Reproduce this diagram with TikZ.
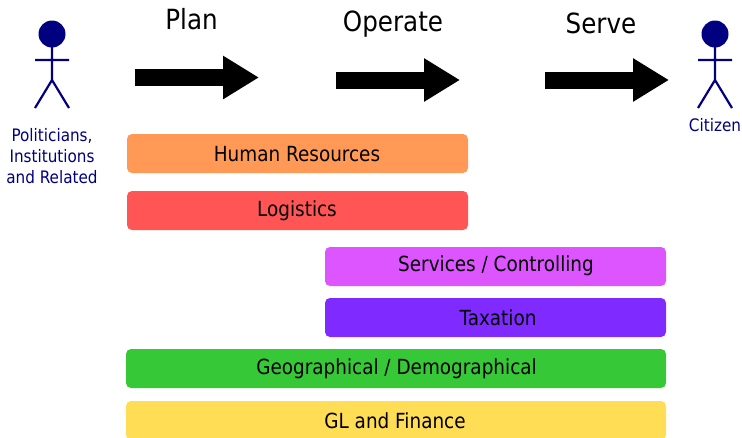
\documentclass[tikz,border=0pt]{standalone}
\usepackage{fontspec}
\setmainfont[FakeStretch=0.885]{DejaVu Sans}
\usepackage{tikz}
\usetikzlibrary{arrows.meta,positioning}
\definecolor{actorblue}{HTML}{000080}
\definecolor{hrcol}{HTML}{FF9955}
\definecolor{logcol}{HTML}{FF5555}
\definecolor{svccol}{HTML}{DD55FF}
\definecolor{taxcol}{HTML}{7F2AFF}
\definecolor{geocol}{HTML}{37C837}
\definecolor{glcol}{HTML}{FFDD55}
\begin{document}
\begin{tikzpicture}[
  x=1pt,y=-1pt,
  every node/.style={font=\fontsize{20.8}{25}\selectfont,anchor=base},
  flow/.style={line width=17pt,-{Triangle[length=36pt,width=41pt]}},
  phase/.style={font=\fontsize{27.8}{33}\selectfont},
  actor/.style={draw=actorblue,line width=2.2pt},
  who/.style={text=actorblue,align=center,font=\fontsize{17.2}{21.3}\selectfont},
  bar/.style={anchor=center,rounded corners=5pt,inner sep=0pt,minimum height=39pt,text=black}
]
  \useasboundingbox (0,0) rectangle (742,437);
  \clip (0,0) rectangle (742,437);

  % Phase labels
  \node[phase] (plan_lbl) at (191.5,29) {Plan};
  \node[phase] (operate_lbl) at (393,31) {Operate};
  \node[phase] (serve_lbl) at (601,33.5) {Serve};

  % Flow arrows
  \coordinate (plan_a) at (135,77.5);
  \coordinate (plan_b) at (259,77.5);
  \coordinate (operate_a) at (336,80);
  \coordinate (operate_b) at (460,80);
  \coordinate (serve_a) at (545,80);
  \coordinate (serve_b) at (669,80);
  \draw[flow] (plan_a) -- (plan_b);
  \draw[flow] (operate_a) -- (operate_b);
  \draw[flow] (serve_a) -- (serve_b);

  % Left actor
  \fill[actorblue] (52,34) circle (13.5);
  \draw[actor] (52,45) -- (52,80) (35,60) -- (69,60) (35,108) -- (52,80) -- (69,108);
  \node[who,anchor=center] (pol_lbl) at (52,156.2) {Politicians,\\Institutions\\and Related};

  % Right actor
  \fill[actorblue] (715,34) circle (13.5);
  \draw[actor] (715,45) -- (715,80) (698,60) -- (732,60) (698,108) -- (715,80) -- (732,108);
  \node[who] (cit_lbl) at (715,131) {Citizen};

  % Bars
  \node[bar,fill=hrcol,minimum width=341pt] (hr) at (297.5,153.5) {};
  \node[bar,fill=logcol,minimum width=341pt] (log) at (297.5,210.5) {};
  \node[bar,fill=svccol,minimum width=341pt] (svc) at (495.5,266.5) {};
  \node[bar,fill=taxcol,minimum width=341pt] (tax) at (495.5,317.5) {};
  \node[bar,fill=geocol,minimum width=540pt] (geo) at (396,368.5) {};
  \node[bar,fill=glcol,minimum width=540pt] (gl) at (396,420.5) {};

  % Bar labels
  \node (hr_lbl) at (297,161) {Human Resources};
  \node (log_lbl) at (297,216) {Logistics};
  \node (svc_lbl) at (496,271.7) {Services / Controlling};
  \node (tax_lbl) at (498,325) {Taxation};
  \node (geo_lbl) at (396.5,374.3) {Geographical / Demographical};
  \node (gl_lbl) at (395,428.4) {GL and Finance};
\end{tikzpicture}
\end{document}
